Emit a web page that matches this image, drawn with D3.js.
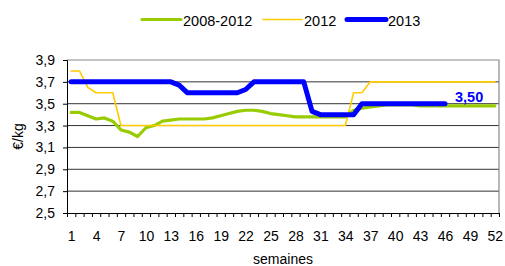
<!DOCTYPE html>
<html>
<head>
<meta charset="utf-8">
<script src="https://cdn.jsdelivr.net/npm/d3@7"></script>
<style>
  body { margin: 0; background: #fff; }
  text { font-family: "Liberation Sans", Arial, sans-serif; }
</style>
</head>
<body>
<svg id="chart" width="505" height="266"></svg>
<script>
var weeks = d3.range(1, 53);
var weekLabels = [1, 4, 7, 10, 13, 16, 19, 22, 25, 28, 31, 34, 37, 40, 43, 46, 49, 52];
var yTicks = [2.5, 2.7, 2.9, 3.1, 3.3, 3.5, 3.7, 3.9];

var avg0812 = [3.42, 3.42, 3.39, 3.36, 3.37, 3.34, 3.26, 3.24, 3.20, 3.28,
  3.30, 3.34, 3.35, 3.36, 3.36, 3.36, 3.36, 3.37, 3.39, 3.41,
  3.43, 3.44, 3.44, 3.43, 3.41, 3.40, 3.39, 3.38, 3.38, 3.38,
  3.38, 3.38, 3.38, 3.38, 3.44, 3.46, 3.47, 3.48, 3.49, 3.49,
  3.49, 3.49, 3.48, 3.48, 3.48, 3.48, 3.48, 3.48, 3.48, 3.48,
  3.48, 3.48];
var y2012 = [3.8, 3.8, 3.65, 3.6, 3.6, 3.6, 3.3, 3.3, 3.3, 3.3,
  3.3, 3.3, 3.3, 3.3, 3.3, 3.3, 3.3, 3.3, 3.3, 3.3,
  3.3, 3.3, 3.3, 3.3, 3.3, 3.3, 3.3, 3.3, 3.3, 3.3,
  3.3, 3.3, 3.3, 3.3, 3.6, 3.6, 3.7, 3.7, 3.7, 3.7,
  3.7, 3.7, 3.7, 3.7, 3.7, 3.7, 3.7, 3.7, 3.7, 3.7,
  3.7, 3.7];
var y2013 = [3.7, 3.7, 3.7, 3.7, 3.7, 3.7, 3.7, 3.7, 3.7, 3.7,
  3.7, 3.7, 3.7, 3.67, 3.6, 3.6, 3.6, 3.6, 3.6, 3.6,
  3.6, 3.63, 3.7, 3.7, 3.7, 3.7, 3.7, 3.7, 3.7, 3.43,
  3.4, 3.4, 3.4, 3.4, 3.4, 3.5, 3.5, 3.5, 3.5, 3.5,
  3.5, 3.5, 3.5, 3.5, 3.5, 3.5, null, null, null, null,
  null, null];

var seriesNames = ["2008-2012", "2012", "2013"];
var seriesColors = ["#99cc00", "#ffcc00", "#0000ff"];
var seriesWidths = [3.2, 1.6, 5];
var seriesValues = [avg0812, y2012, y2013];

var svg = d3.select("#chart");
var plotLeft = 67, plotRight = 499, plotTop = 60, plotBottom = 213;

var x = d3.scaleLinear().domain([0.5, 52.5]).range([plotLeft, plotRight]);
var y = d3.scaleLinear().domain([2.5, 3.9]).range([plotBottom, plotTop]);
var fr = d3.formatLocale({ decimal: ",", thousands: " ", grouping: [3], currency: ["", "€"] });

// gridlines
svg.append("g")
  .selectAll("line")
  .data(yTicks.slice(1, -1))
  .enter().append("line")
  .attr("x1", plotLeft).attr("x2", plotRight)
  .attr("y1", function (d) { return y(d); })
  .attr("y2", function (d) { return y(d); })
  .attr("stroke", "#333")
  .attr("stroke-width", 1);

// top and right border
svg.append("path")
  .attr("d", "M" + plotLeft + "," + y(3.9) + "H" + plotRight + "V" + plotBottom)
  .attr("fill", "none")
  .attr("stroke", "#888")
  .attr("stroke-width", 1.2);

// y axis
var yAxis = d3.axisLeft(y).tickValues(yTicks).tickSize(4).tickPadding(8)
  .tickFormat(fr.format(".1f"));
var gy = svg.append("g").attr("transform", "translate(" + plotLeft + ",0)").call(yAxis);
gy.selectAll("text").attr("font-size", 14).attr("fill", "#000").style("font-family", "Liberation Sans, Arial, sans-serif");
gy.selectAll("line").attr("stroke", "#000");
gy.select(".domain").attr("stroke", "#000");

// x axis: minor ticks at category boundaries
var xTicks = d3.axisBottom(x).tickValues(d3.range(0.5, 53, 1)).tickSize(4).tickFormat("").tickSizeOuter(0);
var gx = svg.append("g").attr("transform", "translate(0," + plotBottom + ")").call(xTicks);
gx.selectAll("line").attr("stroke", "#000");
gx.select(".domain").attr("stroke", "#000");

var xLabels = d3.axisBottom(x).tickValues(weekLabels).tickSize(0).tickPadding(18);
var gxl = svg.append("g").attr("transform", "translate(0," + plotBottom + ")").call(xLabels);
gxl.select(".domain").remove();
gxl.selectAll("text").attr("font-size", 14).attr("fill", "#000").style("font-family", "Liberation Sans, Arial, sans-serif");

// axis titles
svg.append("text")
  .attr("x", (plotLeft + plotRight) / 2).attr("y", 264)
  .attr("text-anchor", "middle").attr("font-size", 14)
  .text("semaines");
svg.append("text")
  .attr("transform", "translate(23," + ((plotTop + plotBottom) / 2) + ") rotate(-90)")
  .attr("text-anchor", "middle").attr("font-size", 14)
  .text("€/kg");

// lines
var line = d3.line()
  .defined(function (d) { return d != null; })
  .x(function (d, i) { return x(weeks[i]); })
  .y(function (d) { return y(d); });

seriesValues.forEach(function (vals, k) {
  svg.append("path")
    .datum(vals)
    .attr("d", line)
    .attr("fill", "none")
    .attr("stroke", seriesColors[k])
    .attr("stroke-width", seriesWidths[k])
    .attr("stroke-linejoin", "round")
    .attr("stroke-linecap", "round");
});

// data label for last 2013 value
var lastIdx = 45;
svg.append("text")
  .attr("x", x(weeks[lastIdx]) + 10)
  .attr("y", y(y2013[lastIdx]) - 2)
  .attr("font-size", 14.5).attr("font-weight", "bold")
  .attr("fill", "#0000ff")
  .text(fr.format(".2f")(y2013[lastIdx]));

// legend
var legendX = [142, 263, 347];
var legend = svg.append("g");
seriesNames.forEach(function (name, k) {
  legend.append("line")
    .attr("x1", legendX[k]).attr("x2", legendX[k] + 39)
    .attr("y1", 19.5).attr("y2", 19.5)
    .attr("stroke", seriesColors[k])
    .attr("stroke-width", seriesWidths[k])
    .attr("stroke-linecap", "round");
  legend.append("text")
    .attr("x", legendX[k] + 41).attr("y", 25.5)
    .attr("font-size", 14.5)
    .text(name);
});
</script>
</body>
</html>
